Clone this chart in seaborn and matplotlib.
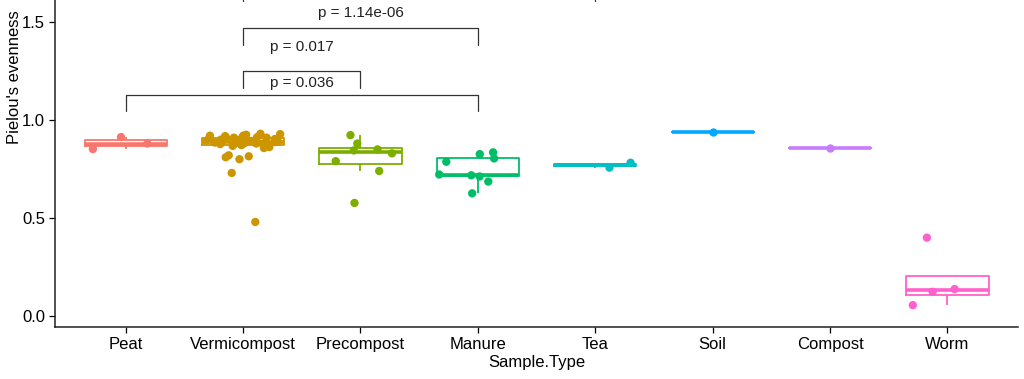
import numpy as np
import pandas as pd
import matplotlib
matplotlib.use("Agg")
import matplotlib.pyplot as plt
import seaborn as sns

# values
sample_types = ["Peat", "Vermicompost", "Precompost", "Manure", "Tea", "Soil", "Compost", "Worm"]
peat = [0.852, 0.88, 0.913]
vermicompost = [0.93, 0.928, 0.925, 0.92, 0.92, 0.918, 0.915, 0.912, 0.91, 0.91,
                0.908, 0.905, 0.903, 0.90, 0.90, 0.898, 0.895, 0.893, 0.89, 0.89,
                0.89, 0.888, 0.885, 0.883, 0.88, 0.88, 0.878, 0.877, 0.876, 0.875,
                0.872, 0.868, 0.862, 0.857,
                0.82, 0.815, 0.81, 0.80, 0.73, 0.48]
precompost = [0.923, 0.88, 0.85, 0.845, 0.83, 0.79, 0.74, 0.577]
manure = [0.626, 0.686, 0.712, 0.718, 0.722, 0.787, 0.804, 0.826, 0.835]
tea = [0.782, 0.757]
soil = [0.937]
compost = [0.859]
worm = [0.056, 0.124, 0.138, 0.40]

colors = ["#F8766D", "#CD9600", "#7CAE00", "#00BE67", "#00BFC4", "#00A9FF", "#C77CFF", "#FF61CC"]

# comparisons: (group a, group b, bracket height, label, label height)
# the top one runs off the top of the picture, its label is not visible
comparisons = [
    ("Peat", "Manure", 1.13, "p = 0.036", 1.19),
    ("Vermicompost", "Precompost", 1.25, "p = 0.017", 1.372),
    ("Vermicompost", "Manure", 1.47, "p = 1.14e-06", 1.546),
    ("Vermicompost", "Tea", 1.69, None, None),
]

groups = [peat, vermicompost, precompost, manure, tea, soil, compost, worm]
df = pd.DataFrame({
    "Sample.Type": np.repeat(sample_types, [len(g) for g in groups]),
    "evenness": np.concatenate(groups),
})

sns.set_style("white")
plt.rcParams["font.family"] = ["Liberation Sans", "DejaVu Sans"]

fig, ax = plt.subplots(figsize=(10.24, 3.79), dpi=100)
fig.subplots_adjust(left=0.054, right=0.994, bottom=0.137, top=1.0)

pal = dict(zip(sample_types, colors))
sns.boxplot(data=df, x="Sample.Type", y="evenness", hue="Sample.Type", order=sample_types,
            palette=pal, fill=False, showfliers=False, showcaps=False, width=0.7,
            linewidth=1.3, medianprops={"linewidth": 2.6}, legend=False, ax=ax)
np.random.seed(7)
sns.stripplot(data=df, x="Sample.Type", y="evenness", hue="Sample.Type", order=sample_types,
              palette=pal, jitter=0.33, size=6, legend=False, ax=ax)

tick_len = 0.085
for a, b, h, lab, lab_y in comparisons:
    xa, xb = sample_types.index(a), sample_types.index(b)
    ax.plot([xa, xa, xb, xb], [h - tick_len, h, h, h - tick_len], color="#333333", lw=0.9)
    if lab:
        ax.text((xa + xb) / 2, lab_y, lab, ha="center", va="center", fontsize=11, color="#222222")

ax.set_xlim(-0.6, 7.6)
ax.set_ylim(-0.056, 1.612)
ax.set_yticks([0.0, 0.5, 1.0, 1.5])
ax.set_yticklabels(["0.0", "0.5", "1.0", "1.5"])
ax.set_xlabel("Sample.Type", fontsize=12, color="black", labelpad=2)
ax.set_ylabel("Pielou's evenness", fontsize=12, color="black")
ax.yaxis.set_label_coords(-0.035, 0.765)
ax.tick_params(axis="both", labelsize=12, colors="black", length=4, width=0.9, direction="out",
               bottom=True, left=True)
for s in ["top", "right"]:
    ax.spines[s].set_visible(False)
for s in ["left", "bottom"]:
    ax.spines[s].set_color("#222222")
    ax.spines[s].set_linewidth(1.1)

fig.savefig("out.png", dpi=100)
